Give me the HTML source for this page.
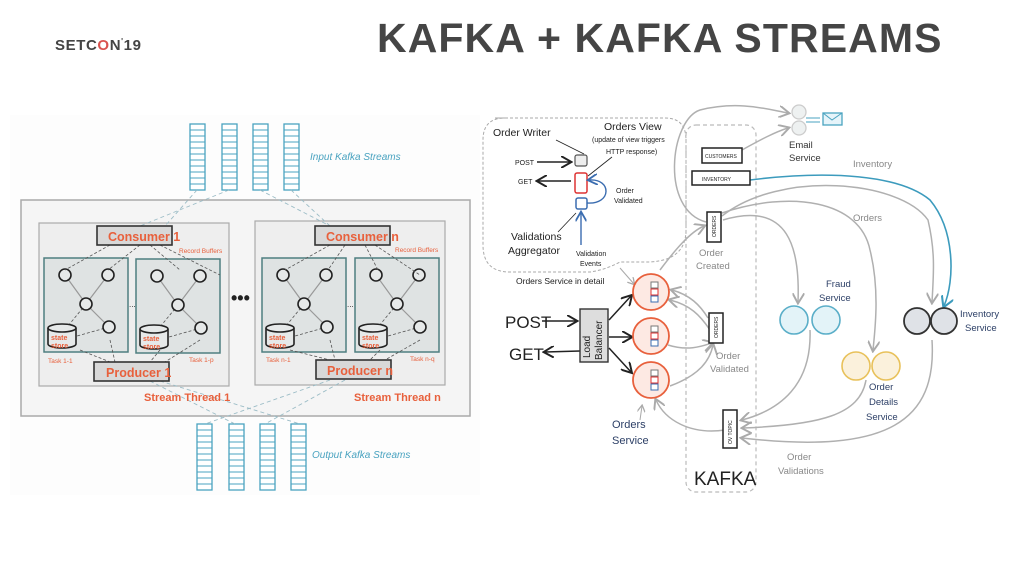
<!DOCTYPE html>
<html><head><meta charset="utf-8"><style>
html,body{margin:0;padding:0;background:#fff;width:1024px;height:576px;overflow:hidden}
svg{position:absolute;left:0;top:0}
text{font-family:"Liberation Sans",sans-serif}
</style></head><body>
<svg width="1024" height="576" viewBox="0 0 1024 576" xmlns="http://www.w3.org/2000/svg">
<defs>
<g id="task">
 <rect x="0" y="0" width="84" height="94" fill="#dfe3e3" stroke="#4f7f80" stroke-width="1.5"/>
 <g stroke="#999" stroke-width="1.2" fill="none">
  <line x1="21" y1="17" x2="42" y2="46"/><line x1="64" y1="17" x2="42" y2="46"/><line x1="42" y1="46" x2="65" y2="69"/>
 </g>
 <g stroke="#555" stroke-width="0.8" stroke-dasharray="3,2" fill="none">
  <line x1="42" y1="46" x2="24" y2="68"/><line x1="65" y1="69" x2="33" y2="78"/>
 </g>
 <g fill="#e6e9e9" stroke="#222" stroke-width="1.6">
  <circle cx="21" cy="17" r="6"/><circle cx="64" cy="17" r="6"/><circle cx="42" cy="46" r="6"/><circle cx="65" cy="69" r="6"/>
 </g>
 <path d="M4 70 v16 a14 4 0 0 0 28 0 v-16" fill="#e6e9e9" stroke="#222" stroke-width="1.6"/>
 <ellipse cx="18" cy="70" rx="14" ry="4" fill="#e6e9e9" stroke="#222" stroke-width="1.6"/>
</g>
<g id="col">
 <rect x="0" y="0" width="15" height="66" fill="#fff" stroke="#4aa3c0" stroke-width="1.3"/>
 <path d="M0 6h15M0 12h15M0 18h15M0 24h15M0 30h15M0 36h15M0 42h15M0 48h15M0 54h15M0 60h15" stroke="#4aa3c0" stroke-width="1"/>
</g>
<marker id="ag" markerWidth="8" markerHeight="8" refX="6" refY="4" orient="auto"><path d="M0 0L7 4L0 8" fill="none" stroke="#aaa" stroke-width="1.3"/></marker>
<marker id="ab" markerWidth="8" markerHeight="8" refX="6" refY="4" orient="auto"><path d="M0 0L7 4L0 8" fill="none" stroke="#222" stroke-width="1.3"/></marker>
<marker id="at" markerWidth="8" markerHeight="8" refX="6" refY="4" orient="auto"><path d="M0 0L7 4L0 8" fill="none" stroke="#3c9bbd" stroke-width="1.3"/></marker>
<marker id="au" markerWidth="8" markerHeight="8" refX="6" refY="4" orient="auto"><path d="M0 0L7 4L0 8" fill="none" stroke="#3b6db0" stroke-width="1.3"/></marker>
</defs>

<!-- header -->
<text x="55" y="50" font-size="15" font-weight="bold" fill="#444" letter-spacing="0.6">SETC<tspan fill="#d9534f">O</tspan>N<tspan font-size="8" dy="-6">'</tspan><tspan dy="6">19</tspan></text>
<text x="377" y="52" font-size="41" font-weight="bold" fill="#454545" letter-spacing="1.1">KAFKA + KAFKA STREAMS</text>

<!-- LEFT DIAGRAM -->
<rect x="10" y="115" width="470" height="380" fill="#fdfdfd"/>
<rect x="21" y="200" width="449" height="216" fill="#f5f5f5" stroke="#aaa" stroke-width="1.5"/>
<rect x="39" y="223" width="190" height="163" fill="#eeeeee" stroke="#aaa" stroke-width="1.2"/>
<rect x="255" y="221" width="190" height="164" fill="#eeeeee" stroke="#aaa" stroke-width="1.2"/>
<use href="#col" x="190" y="124"/><use href="#col" x="222" y="124"/><use href="#col" x="253" y="124"/><use href="#col" x="284" y="124"/>
<use href="#col" x="197" y="424"/><use href="#col" x="229" y="424"/><use href="#col" x="260" y="424"/><use href="#col" x="291" y="424"/>
<text x="310" y="160" font-size="10" fill="#4aa3c0" font-style="italic">Input Kafka Streams</text>
<text x="312" y="458" font-size="10" fill="#4aa3c0" font-style="italic">Output Kafka Streams</text>
<g stroke="#9bbcc6" stroke-width="0.9" stroke-dasharray="4,3" fill="none">
 <path d="M197 190 L165 226"/><path d="M229 190 L140 226"/><path d="M260 190 L330 226"/><path d="M291 190 L330 226"/>
 <path d="M150 381 L235 424"/><path d="M160 381 L300 424"/><path d="M330 380 L205 424"/><path d="M345 380 L265 424"/>
</g>
<use href="#task" x="44" y="258"/><use href="#task" x="136" y="259"/><use href="#task" x="262" y="258"/><use href="#task" x="355" y="258"/>
<g stroke="#555" stroke-width="0.8" stroke-dasharray="3,2" fill="none">
 <path d="M110 245L65 270M140 245L108 270M150 245L180 270M160 245L220 275M330 245L285 270M345 245L328 270M365 245L378 270M375 245L420 275"/>
 <path d="M80 350L110 362M110 340L115 362M160 350L150 362M200 340L165 362M290 350L330 360M330 340L335 360M380 350L370 360M420 340L385 360"/>
</g>
<g fill="#d8d8d8" stroke="#333" stroke-width="1.6">
 <rect x="97" y="226" width="75" height="19"/><rect x="315" y="226" width="75" height="19"/>
 <rect x="94" y="362" width="75" height="19"/><rect x="316" y="360" width="75" height="19"/>
</g>
<g fill="#e8603c" font-weight="bold">
 <text x="108" y="241" font-size="12.5">Consumer 1</text><text x="326" y="241" font-size="12.5">Consumer n</text>
 <text x="106" y="377" font-size="12.5">Producer 1</text><text x="327" y="375" font-size="12.5">Producer n</text>
 <text x="144" y="401" font-size="11">Stream Thread 1</text><text x="354" y="401" font-size="11">Stream Thread n</text>
 <g font-size="7"><text x="51" y="340">state</text><text x="51" y="348">store</text><text x="143" y="341">state</text><text x="143" y="349">store</text>
 <text x="269" y="340">state</text><text x="269" y="348">store</text><text x="362" y="340">state</text><text x="362" y="348">store</text></g>
</g>
<g fill="#e8603c" font-size="6.5">
 <text x="179" y="253">Record Buffers</text><text x="395" y="252">Record Buffers</text>
 <text x="48" y="363">Task 1-1</text><text x="189" y="362">Task 1-p</text><text x="266" y="362">Task n-1</text><text x="410" y="361">Task n-q</text>
</g>
<text x="231" y="304" font-size="18" font-weight="bold" fill="#222">•••</text>
<text x="129" y="307" font-size="8" fill="#222">...</text><text x="347" y="307" font-size="8" fill="#222">...</text>

<!-- RIGHT DIAGRAM -->
<path d="M495 118 H665 Q686 118 686 140 V230 Q686 260 650 262 L620 262 Q605 270 590 272 H510 Q483 272 483 245 V140 Q483 118 505 118Z" fill="none" stroke="#aaa" stroke-width="1" stroke-dasharray="3,2"/>
<rect x="686" y="125" width="70" height="367" rx="10" fill="none" stroke="#bbb" stroke-width="1.2" stroke-dasharray="4,3"/>
<text x="694" y="485" font-size="19" fill="#222">KAFKA</text>

<g font-size="9" fill="#222">
 <text x="493" y="136" font-size="10.5">Order Writer</text>
 <text x="604" y="130" font-size="10.5">Orders View</text>
 <text x="592" y="142" font-size="7">(update of view triggers</text>
 <text x="606" y="154" font-size="7">HTTP response)</text>
 <text x="515" y="165" font-size="7">POST</text><text x="518" y="184" font-size="7">GET</text>
 <text x="616" y="193" font-size="7">Order</text><text x="614" y="203" font-size="7">Validated</text>
 <text x="511" y="240" font-size="10.5">Validations</text><text x="508" y="254" font-size="10.5">Aggregator</text>
 <text x="576" y="256" font-size="7">Validation</text><text x="580" y="266" font-size="7">Events</text>
 <text x="516" y="284" font-size="8.5">Orders Service in detail</text>
</g>
<g stroke="#222" stroke-width="1.5" fill="none">
 <line x1="537" y1="162" x2="570" y2="162" marker-end="url(#ab)"/>
 <line x1="571" y1="181" x2="538" y2="181" marker-end="url(#ab)"/>
 <line x1="556" y1="140" x2="584" y2="154" stroke-width="0.8"/>
 <line x1="612" y1="157" x2="588" y2="176" stroke-width="0.8"/>
 <line x1="558" y1="232" x2="576" y2="213" stroke-width="0.8"/>
</g>
<rect x="575" y="155" width="12" height="11" rx="2" fill="#eee" stroke="#555" stroke-width="1.2"/>
<rect x="575" y="173" width="12" height="20" rx="2" fill="#fff" stroke="#d33" stroke-width="1.5"/>
<rect x="576" y="198" width="11" height="11" rx="2" fill="#fff" stroke="#3b6db0" stroke-width="1.5"/>
<path d="M587 203 C 612 205 612 178 589 180" fill="none" stroke="#3b6db0" stroke-width="1.4" marker-end="url(#au)"/>
<line x1="581" y1="245" x2="581" y2="213" stroke="#3b6db0" stroke-width="1.4" marker-end="url(#au)"/>

<g stroke="#b0b0b0" stroke-width="1.5" fill="none" marker-end="url(#ag)">
 <path d="M706 222 C 660 210 670 120 700 110 C 740 100 770 110 788 113"/>
 <path d="M742 150 C 760 140 775 132 788 128"/>
 <path d="M660 270 C 675 250 690 232 704 226"/>
 <path d="M722 216 C 780 170 900 180 928 220 C 935 250 934 270 932 302"/>
 <path d="M722 213 C 790 190 860 200 870 250 C 880 290 875 330 873 350"/>
 <path d="M723 220 C 790 200 800 250 798 302"/>
 <path d="M708 318 C 700 305 690 295 672 290"/>
 <path d="M710 330 C 700 315 690 305 670 300"/>
 <path d="M668 345 C 690 352 705 345 712 343"/>
 <path d="M670 386 C 700 375 710 360 713 345"/>
 <path d="M725 430 C 690 435 665 420 656 400"/>
 <path d="M810 330 C 812 385 780 410 742 420"/>
 <path d="M866 380 C 860 415 820 425 743 428"/>
 <path d="M932 340 C 937 420 890 455 742 438"/>
</g>
<path d="M750 180 C 830 170 900 175 930 200 C 955 230 955 280 944 306" fill="none" stroke="#3c9bbd" stroke-width="1.6" marker-end="url(#at)"/>
<g stroke="#222" stroke-width="1.5" fill="none" marker-end="url(#ab)">
 <line x1="609" y1="320" x2="631" y2="296"/>
 <line x1="609" y1="337" x2="631" y2="337"/>
 <line x1="609" y1="348" x2="631" y2="372"/>
 <line x1="542" y1="321" x2="576" y2="321"/>
 <line x1="580" y1="351" x2="545" y2="352"/>
</g>
<line x1="620" y1="268" x2="634" y2="284" stroke="#aaa" stroke-width="1" marker-end="url(#ag)"/>
<line x1="640" y1="420" x2="642" y2="406" stroke="#aaa" stroke-width="1" marker-end="url(#ag)"/>

<rect x="580" y="309" width="28" height="53" fill="#ddd" stroke="#333" stroke-width="1.4"/>
<text transform="translate(590,358) rotate(-90)" font-size="10" fill="#222">Load</text>
<text transform="translate(602,360) rotate(-90)" font-size="10" fill="#222">Balancer</text>
<text x="505" y="328" font-size="17" fill="#222">POST</text>
<text x="509" y="360" font-size="17" fill="#222">GET</text>
<g fill="#fff" stroke="#222" stroke-width="1.5">
 <rect x="702" y="148" width="40" height="15"/><rect x="692" y="171" width="58" height="14"/>
 <rect x="707" y="212" width="14" height="30"/><rect x="709" y="313" width="14" height="30"/><rect x="723" y="410" width="14" height="38"/>
</g>
<g font-size="5" fill="#222">
 <text x="705" y="158">CUSTOMERS</text><text x="702" y="181">INVENTORY</text>
 <text transform="translate(716,237) rotate(-90)">ORDERS</text>
 <text transform="translate(718,338) rotate(-90)">ORDERS</text>
 <text transform="translate(732,444) rotate(-90)">OV TOPIC</text>
</g>
<g fill="#fde9e3" stroke="#e8603c" stroke-width="1.8">
 <circle cx="651" cy="292" r="18"/><circle cx="651" cy="336" r="18"/><circle cx="651" cy="380" r="18"/>
</g>
<g fill="#fff" stroke-width="1">
 <rect x="651" y="282" width="7" height="6" stroke="#777"/><rect x="651" y="289" width="7" height="6" stroke="#d33"/><rect x="651" y="296" width="7" height="6" stroke="#3b6db0"/>
 <rect x="651" y="326" width="7" height="6" stroke="#777"/><rect x="651" y="333" width="7" height="6" stroke="#d33"/><rect x="651" y="340" width="7" height="6" stroke="#3b6db0"/>
 <rect x="651" y="370" width="7" height="6" stroke="#777"/><rect x="651" y="377" width="7" height="6" stroke="#d33"/><rect x="651" y="384" width="7" height="6" stroke="#3b6db0"/>
</g>
<g fill="#eef1f1" stroke="#ccc" stroke-width="1.3"><circle cx="799" cy="112" r="7"/><circle cx="799" cy="128" r="7"/></g>
<path d="M806 118h14M806 122h14" stroke="#4aa3c0" stroke-width="1"/>
<rect x="823" y="113" width="19" height="12" fill="#e6f4fa" stroke="#4aa3c0" stroke-width="1.3"/>
<path d="M823 113 L832 120 L842 113" fill="none" stroke="#4aa3c0" stroke-width="1"/>
<g fill="#e3f3f8" stroke="#5aaec8" stroke-width="1.6"><circle cx="794" cy="320" r="14"/><circle cx="826" cy="320" r="14"/></g>
<g fill="#fbf1dc" stroke="#e8c15a" stroke-width="1.6"><circle cx="856" cy="366" r="14"/><circle cx="886" cy="366" r="14"/></g>
<g fill="#dfe2e7" stroke="#333" stroke-width="1.8"><circle cx="917" cy="321" r="13"/><circle cx="944" cy="321" r="13"/></g>
<g font-size="9.5" fill="#333">
 <text x="789" y="148">Email</text><text x="789" y="161">Service</text>
 <text x="699" y="256" fill="#888">Order</text><text x="696" y="269" fill="#888">Created</text>
 <text x="716" y="359" fill="#888">Order</text><text x="710" y="372" fill="#888">Validated</text>
 <text x="787" y="460" fill="#888">Order</text><text x="778" y="474" fill="#888">Validations</text>
 <text x="853" y="167" fill="#888">Inventory</text><text x="853" y="221" fill="#888">Orders</text>
</g>
<g font-size="9.5" fill="#2c3f66">
 <text x="826" y="287">Fraud</text><text x="819" y="301">Service</text>
 <text x="869" y="390">Order</text><text x="869" y="405">Details</text><text x="866" y="420">Service</text>
 <text x="960" y="317">Inventory</text><text x="965" y="331">Service</text>
 <text x="612" y="428" font-size="11">Orders</text><text x="612" y="444" font-size="11">Service</text>
</g>
</svg>
</body></html>
